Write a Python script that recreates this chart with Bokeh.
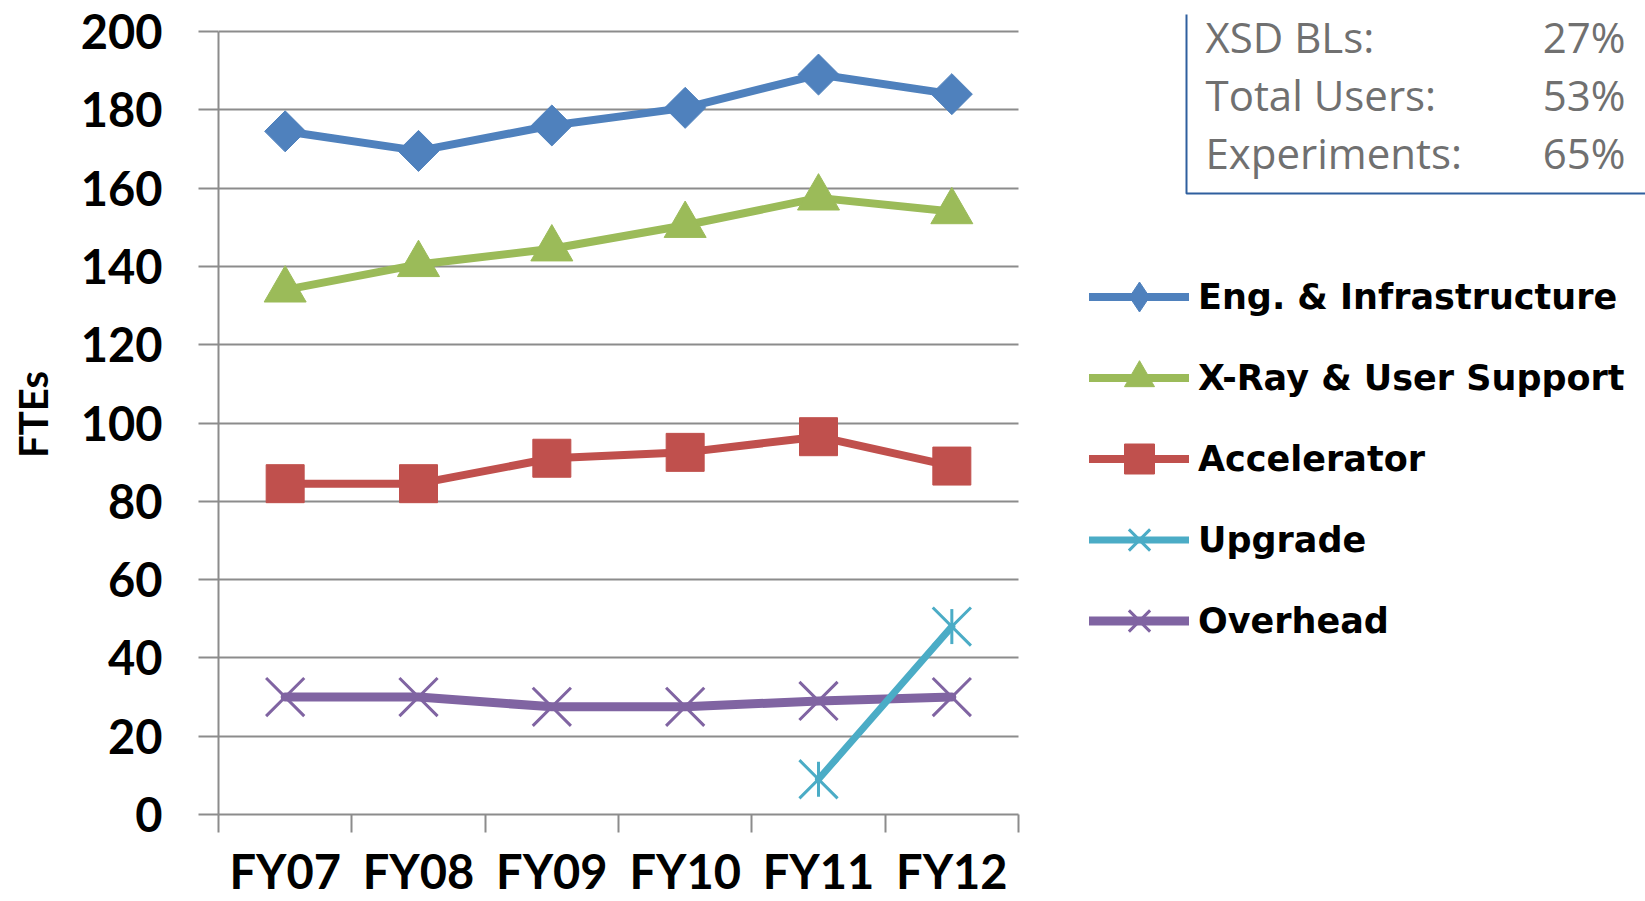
import math

from bokeh.plotting import figure
from bokeh.models import (Range1d, FixedTicker, Legend, LegendItem,
                          BoxAnnotation, Label)
from bokeh.embed import file_html
from bokeh.resources import INLINE

# ---- data -------------------------------------------------------------
years = ["FY07", "FY08", "FY09", "FY10", "FY11", "FY12"]
eng_infra = [174.5, 169.5, 176, 180.5, 189, 184]
xray_user = [134, 140.5, 144.5, 150.5, 157.5, 154]
accelerator = [84.5, 84.5, 91, 92.5, 96.5, 89]
upgrade = [float("nan")] * 4 + [9, 48]
overhead = [30, 30, 27.5, 27.5, 29, 30]
y_ticks = list(range(0, 201, 20))

series_names = ["Eng. & Infrastructure", "X-Ray & User Support", "Accelerator",
                "Upgrade", "Overhead"]
box_labels = ["XSD BLs:", "Total Users:", "Experiments:"]
box_values = ["27%", "53%", "65%"]

# ---- colours / styles -------------------------------------------------
BLUE, GREEN, RED, CYAN, PURPLE = "#4F81BD", "#9BBB59", "#C0504D", "#4BACC6", "#8064A2"
GRID = "#8C8C8C"
LINE = dict(line_join="round", line_cap="round")

n = len(years)
y_max = y_ticks[-1]
# each year sits in the middle of its own unit-wide slot
xs = [i + 0.5 for i in range(n)]

# The frame runs on to the right edge (and nearly to the top) of the page so
# the key and the share box can live inside it; axes and grid stop at the
# data area.
FRAME_L, FRAME_B, FRAME_T, W, H = 218, 87, 14, 1645, 901
px_per_x = 800 / n          # slot width in pixels
px_per_y = 783 / y_max      # pixels per FTE
x_end = (W - FRAME_L) / px_per_x
y_end = (H - FRAME_B - FRAME_T) / px_per_y

p = figure(width=W, height=H, output_backend="svg", toolbar_location=None,
           x_range=Range1d(0, x_end), y_range=Range1d(0, y_end),
           min_border_left=FRAME_L, min_border_right=0,
           min_border_top=FRAME_T, min_border_bottom=FRAME_B)
p.outline_line_color = None
p.background_fill_color = "white"
p.border_fill_color = "white"

xa = p.xaxis[0]
xa.bounds = (0, n)
xa.ticker = FixedTicker(ticks=xs, minor_ticks=list(range(n + 1)))
xa.major_label_overrides = {x: y for x, y in zip(xs, years)}
xa.major_tick_line_color = None
xa.major_tick_out = 18
xa.major_tick_in = 0
xa.minor_tick_line_color = GRID
xa.minor_tick_line_width = 2
xa.minor_tick_out = 18
xa.minor_tick_in = 0
xa.axis_line_color = GRID
xa.axis_line_width = 2
xa.major_label_text_font = "Lato"
xa.major_label_text_font_style = "bold"
xa.major_label_text_font_size = "47px"
xa.major_label_text_color = "black"
xa.major_label_standoff = 10

ya = p.yaxis[0]
ya.bounds = (0, y_max)
ya.ticker = FixedTicker(ticks=y_ticks)
ya.major_tick_line_color = GRID
ya.major_tick_line_width = 2
ya.major_tick_out = 20
ya.major_tick_in = 0
ya.minor_tick_line_color = None
ya.axis_line_color = GRID
ya.axis_line_width = 2
ya.major_label_text_font = "Lato"
ya.major_label_text_font_style = "bold"
ya.major_label_text_font_size = "47px"
ya.major_label_text_color = "black"
ya.major_label_standoff = 36
ya.axis_label = "FTEs"
ya.axis_label_text_font = "Lato"
ya.axis_label_text_font_style = "bold"
ya.axis_label_text_font_size = "40px"
ya.axis_label_text_color = "black"
ya.axis_label_standoff = 21

p.xgrid.grid_line_color = None
p.ygrid.grid_line_color = GRID
p.ygrid.grid_line_width = 2
p.ygrid.cross_bounds = (0, n)

# ---- series -----------------------------------------------------------
eng_line = p.line(xs, eng_infra, color=BLUE, line_width=8, **LINE)
p.scatter(xs, eng_infra, marker="square", angle=math.pi / 4, size=29, color=BLUE)
eng_key = p.scatter([float("nan")], [float("nan")], marker="diamond", color=BLUE)

xr_line = p.line(xs, xray_user, color=GREEN, line_width=8, **LINE)
xr_mark = p.scatter(xs, xray_user, marker="triangle", size=42, color=GREEN)

acc_line = p.line(xs, accelerator, color=RED, line_width=8, **LINE)
acc_mark = p.scatter(xs, accelerator, marker="square", size=38, color=RED)

ovh_line = p.line(xs, overhead, color=PURPLE, line_width=9, **LINE)
ovh_mark = p.scatter(xs, overhead, marker="x", size=54, line_color=PURPLE, line_width=3)

upg_line = p.line(xs, upgrade, color=CYAN, line_width=7, **LINE)
upg_x = p.scatter(xs, upgrade, marker="x", size=54, line_color=CYAN, line_width=3)
upg_bar = p.scatter(xs, upgrade, marker="dash", angle=math.pi / 2, size=35,
                    line_color=CYAN, line_width=3)

renderer_sets = [[eng_line, eng_key], [xr_line, xr_mark], [acc_line, acc_mark],
                 [upg_line, upg_x, upg_bar], [ovh_line, ovh_mark]]
legend = Legend(
    items=[LegendItem(label=nm, renderers=rs) for nm, rs in zip(series_names, renderer_sets)],
    location=(871, 156), orientation="vertical",
    glyph_width=100, glyph_height=75, spacing=6, label_standoff=9,
    padding=0, margin=0, border_line_color=None, background_fill_alpha=0,
    label_text_font="DejaVu Sans", label_text_font_style="bold",
    label_text_font_size="35px", label_text_color="black",
)
p.add_layout(legend)

# ---- share box in the upper right ------------------------------------
p.add_layout(BoxAnnotation(left=968, right=1460, bottom=621, top=850,
                           left_units="screen", right_units="screen",
                           bottom_units="screen", top_units="screen",
                           fill_alpha=0, line_color="#2F5F9E", line_alpha=1,
                           line_dash="solid", line_width=2))
for i, (name, share) in enumerate(zip(box_labels, box_values)):
    y = 778 - 58 * i
    p.add_layout(Label(x=987, y=y, x_units="screen", y_units="screen", text=name,
                       text_font="Open Sans", text_font_size="42px", text_color="#707070",
                       text_align="left", text_baseline="middle"))
    p.add_layout(Label(x=1407, y=y, x_units="screen", y_units="screen", text=share,
                       text_font="Open Sans", text_font_size="42px", text_color="#707070",
                       text_align="right", text_baseline="middle"))

open("out.html", "w").write(file_html(p, INLINE))
